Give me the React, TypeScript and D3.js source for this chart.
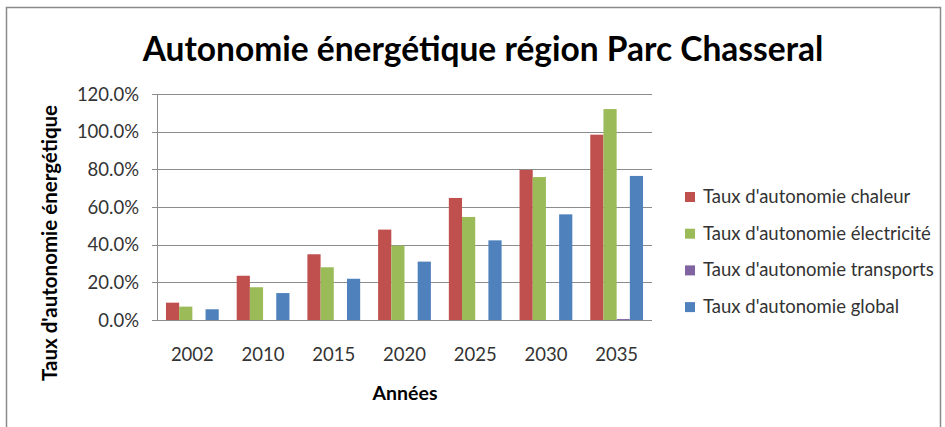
import React from "react";
import * as d3 from "d3";

const categories = ["2002", "2010", "2015", "2020", "2025", "2030", "2035"];
const seriesNames = [
  "Taux d'autonomie chaleur",
  "Taux d'autonomie électricité",
  "Taux d'autonomie transports",
  "Taux d'autonomie global",
];
const chaleur = [9.2, 23.5, 34.9, 48.0, 64.8, 79.7, 98.4];
const electricite = [7.1, 17.4, 28.0, 39.5, 54.7, 75.9, 112.0];
const transports = [0, 0, 0, 0, 0, 0, 0.5];
const global = [5.7, 14.3, 21.9, 31.0, 42.3, 56.1, 76.5];
const seriesColors = ["#C0504D", "#9BBB59", "#8064A2", "#4F81BD"];
const yTicks = [0, 20, 40, 60, 80, 100, 120];

const W = 945;
const H = 427;
const FONT = "Lato, 'Open Sans', sans-serif";

export default function App() {
  const series = [chaleur, electricite, transports, global];
  const plot = { left: 157, right: 652, top: 94, bottom: 320 };
  const x = d3
    .scaleBand<string>()
    .domain(categories)
    .range([plot.left, plot.right])
    .paddingInner(0)
    .paddingOuter(0);
  const inner = d3
    .scaleBand<number>()
    .domain([0, 1, 2, 3])
    .range([0, x.bandwidth()])
    .paddingInner(0)
    .paddingOuter(0.68);
  const y = d3.scaleLinear().domain([0, 120]).range([plot.bottom, plot.top]);
  const fmt = (v: number) => v.toFixed(1) + "%";

  return (
    <svg
      width={W}
      height={H}
      style={{ position: "absolute", left: 0, top: 0, background: "#fff" }}
      fontFamily={FONT}
    >
      <rect x={6.5} y={7.5} width={934} height={440} fill="#fff" stroke="#8a8a8a" strokeWidth={1.5} />
      <text
        x={483}
        y={61}
        textAnchor="middle"
        fontSize={33.5}
        fontWeight="bold"
        fill="#000"
      >
        Autonomie énergétique région Parc Chasseral
      </text>

      {/* gridlines */}
      {yTicks.map((t) => (
        <line
          key={"g" + t}
          x1={plot.left - 5}
          x2={plot.right}
          y1={Math.round(y(t)) + 0.5}
          y2={Math.round(y(t)) + 0.5}
          stroke="#8c8c8c"
          strokeWidth={1}
        />
      ))}
      {yTicks.map((t) => (
        <text
          key={"t" + t}
          x={139}
          y={y(t) + 6.5}
          textAnchor="end"
          fontSize={18.5}
          fill="#333"
        >
          {fmt(t)}
        </text>
      ))}
      <line
        x1={plot.left + 0.5}
        x2={plot.left + 0.5}
        y1={plot.top}
        y2={plot.bottom}
        stroke="#8c8c8c"
      />

      {/* bars */}
      {categories.map((c, i) => (
        <g key={c}>
          {series.map((s, k) => {
            const v = s[i];
            const bx = (x(c) as number) + (inner(k) as number);
            const by = y(v);
            return (
              <rect
                key={k}
                x={bx}
                y={by}
                width={inner.bandwidth()}
                height={Math.max(0, plot.bottom - by)}
                fill={seriesColors[k]}
              />
            );
          })}
          <text
            x={(x(c) as number) + x.bandwidth() / 2}
            y={361}
            textAnchor="middle"
            fontSize={18.5}
            fill="#333"
          >
            {c}
          </text>
        </g>
      ))}

      <text x={405} y={400} textAnchor="middle" fontSize={19.5} fontWeight="bold" fill="#000">
        Années
      </text>
      <text
        transform={`translate(57,243) rotate(-90)`}
        textAnchor="middle"
        fontSize={20.5}
        fontWeight="bold"
        fill="#000"
      >
        Taux d'autonomie énergétique
      </text>

      {/* legend */}
      {seriesNames.map((n, k) => (
        <g key={n} transform={`translate(685,${197 + k * 36.7})`}>
          <rect x={0} y={-5} width={10} height={10} fill={seriesColors[k]} />
          <text x={18} y={6} fontSize={18.5} fill="#333">
            {n}
          </text>
        </g>
      ))}
    </svg>
  );
}
